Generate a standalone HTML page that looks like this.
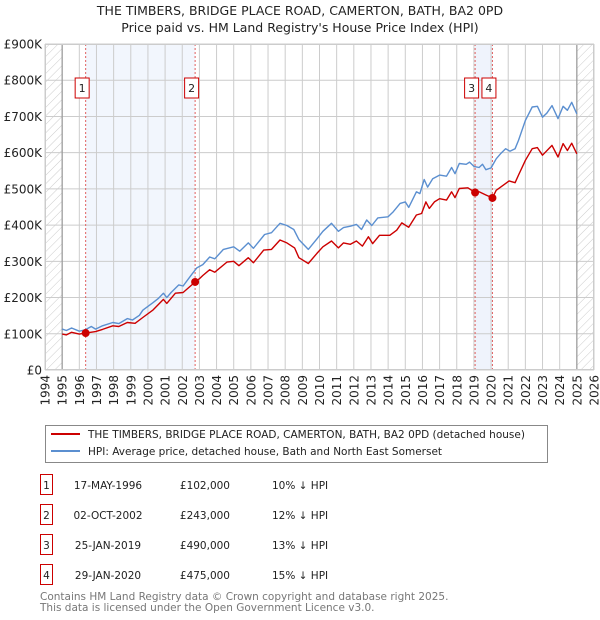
<!DOCTYPE html>
<html><head><meta charset="utf-8"><style>
body{margin:0;background:#fff;}
svg{display:block;font-family:"DejaVu Sans","Liberation Sans",sans-serif;}
</style></head><body>
<svg id="chart" width="600" height="620" viewBox="0 0 600 620">
<defs>
<pattern id="hatch" width="6" height="6" patternUnits="userSpaceOnUse" patternTransform="rotate(45)">
<line x1="0" y1="0" x2="0" y2="6" stroke="#ccc" stroke-width="1"/></pattern>
</defs>
<text x="300" y="15" text-anchor="middle" font-size="12.5" fill="#222">THE TIMBERS, BRIDGE PLACE ROAD, CAMERTON, BATH, BA2 0PD</text>
<text x="300" y="32" text-anchor="middle" font-size="12.5" fill="#222">Price paid vs. HM Land Registry's House Price Index (HPI)</text>
<g id="plot"></g>
<g>
<rect x="45.5" y="425.5" width="502" height="37" fill="#fff" stroke="#888"/>
<line x1="51" y1="434" x2="80" y2="434" stroke="#cc0000" stroke-width="2"/>
<text x="88" y="438" font-size="10.5" fill="#222">THE TIMBERS, BRIDGE PLACE ROAD, CAMERTON, BATH, BA2 0PD (detached house)</text>
<line x1="51" y1="451" x2="80" y2="451" stroke="#5b8fd0" stroke-width="2"/>
<text x="88" y="455" font-size="10.5" fill="#222">HPI: Average price, detached house, Bath and North East Somerset</text>
</g>
<g id="table" font-size="10.5" fill="#222"></g>
<text x="40" y="600" font-size="10.5" fill="#777">Contains HM Land Registry data © Crown copyright and database right 2025.</text>
<text x="40" y="611" font-size="10.5" fill="#777">This data is licensed under the Open Government Licence v3.0.</text>
</svg>
<script>
const hpiYears=[1995,1995.25,1995.55,1996,1996.35,1996.7,1996.95,1997.35,1997.95,1998.3,1998.8,1999.1,1999.5,1999.7,2000.3,2000.6,2000.9,2001.1,2001.35,2001.8,2002.05,2002.55,2002.85,2003.2,2003.6,2003.9,2004.4,2005,2005.35,2005.85,2006.15,2006.8,2007.2,2007.7,2008.1,2008.5,2008.8,2009.35,2009.85,2010.2,2010.7,2011.1,2011.4,2011.8,2012.15,2012.45,2012.75,2013.05,2013.4,2014,2014.3,2014.7,2015,2015.2,2015.5,2015.65,2015.85,2016.1,2016.3,2016.6,2017,2017.4,2017.7,2017.9,2018.15,2018.55,2018.75,2019,2019.3,2019.5,2019.7,2020,2020.3,2020.55,2020.85,2021.1,2021.4,2021.6,2022,2022.4,2022.7,2023,2023.25,2023.55,2023.9,2024.2,2024.45,2024.7,2025];
const hpiValues=[113,109,116,107,111,120,113,122,131,128,142,138,151,165,186,197,212,200,214,235,232,264,282,291,312,307,333,340,328,351,336,374,379,405,399,388,360,333,362,383,405,383,393,397,402,388,414,399,420,423,437,460,464,449,478,492,487,526,505,528,538,535,559,542,570,568,574,562,559,568,553,558,583,597,611,604,611,634,689,726,728,698,709,730,694,728,717,739,707];
const priceYears=[1995,1995.25,1995.55,1996,1996.37,1996.95,1997.35,1997.95,1998.3,1998.8,1999.25,1999.7,2000.3,2000.9,2001.1,2001.6,2002.05,2002.75,2003,2003.2,2003.6,2003.9,2004.6,2005,2005.3,2005.85,2006.15,2006.75,2007.2,2007.7,2008.1,2008.55,2008.8,2009.35,2009.85,2010.2,2010.7,2011.1,2011.4,2011.8,2012.15,2012.5,2012.85,2013.1,2013.5,2014.1,2014.5,2014.8,2015.2,2015.65,2015.95,2016.2,2016.4,2016.7,2017,2017.4,2017.7,2017.9,2018.15,2018.65,2019.07,2019.3,2019.7,2020.08,2020.3,2020.7,2021.05,2021.4,2021.6,2022,2022.4,2022.7,2023,2023.55,2023.9,2024.2,2024.45,2024.7,2025];
const priceValues=[99,97,104,99,102,106,112,122,120,131,129,145,166,195,184,212,214,243,252,261,277,270,298,300,288,310,296,331,333,359,351,337,310,294,322,340,356,337,351,347,356,342,368,349,372,372,386,406,394,428,432,464,446,464,473,469,492,476,501,503,490,492,483,475,496,510,522,517,538,579,611,614,593,620,588,625,606,626,597];
const saleLabels=["1","2","3","4"];
const saleYears=[1996.37,2002.75,2019.07,2020.08];
const saleValues=[102,243,490,475];
const saleDates=["17-MAY-1996","02-OCT-2002","25-JAN-2019","29-JAN-2020"];
const salePrices=["£102,000","£243,000","£490,000","£475,000"];
const saleDiffs=["10% ↓ HPI","12% ↓ HPI","13% ↓ HPI","15% ↓ HPI"];
const yTicks=[0,100,200,300,400,500,600,700,800,900];
const yTickLabels=["£0","£100K","£200K","£300K","£400K","£500K","£600K","£700K","£800K","£900K"];
const xTicks=[1994,1995,1996,1997,1998,1999,2000,2001,2002,2003,2004,2005,2006,2007,2008,2009,2010,2011,2012,2013,2014,2015,2016,2017,2018,2019,2020,2021,2022,2023,2024,2025,2026];

const NS="http://www.w3.org/2000/svg";
const L=45,R=594,T=44,B=370,X0=1994,X1=2026,YMAX=900;
const xs=y=>L+(y-X0)/(X1-X0)*(R-L);
const ys=v=>B-v/YMAX*(B-T);
const plot=document.getElementById('plot');
function mk(tag,attrs,parent){const e=document.createElementNS(NS,tag);for(const k in attrs)e.setAttribute(k,attrs[k]);(parent||plot).appendChild(e);return e;}

mk('rect',{x:L,y:T,width:R-L,height:B-T,fill:'#fff'});
let e;
e=mk('rect',{x:L,y:T,width:xs(1995)-L,height:B-T,fill:'url(#hatch)'});


e=mk('rect',{x:xs(2025),y:T,width:R-xs(2025),height:B-T,fill:'url(#hatch)'});


e=mk('rect',{x:xs(saleYears[0]),y:T,width:xs(saleYears[1])-xs(saleYears[0]),height:B-T,fill:'#edf2fc',opacity:0.7});


e=mk('rect',{x:xs(saleYears[2]),y:T,width:xs(saleYears[3])-xs(saleYears[2]),height:B-T,fill:'#edf2fc',opacity:0.9});



yTicks.forEach((v,i)=>{
  const l=mk('line',{x1:L,x2:R,y1:ys(v),y2:ys(v),stroke:'#ccc','stroke-width':1});
  
  
  const t=mk('text',{x:L-3,y:ys(v)+4.5,'text-anchor':'end','font-size':12,fill:'#222'});
  t.textContent=yTickLabels[i];
  
  
});
xTicks.forEach(y=>{
  const l=mk('line',{x1:xs(y),x2:xs(y),y1:T,y2:B,stroke:'#ccc','stroke-width':1});
  
  
  const t=mk('text',{x:0,y:0,'text-anchor':'end','font-size':12,fill:'#222',transform:`translate(${xs(y)+4.5},${B+5}) rotate(-90)`});
  t.textContent=String(y);
  
  
});
e=mk('line',{x1:xs(1995),x2:xs(1995),y1:T,y2:B,stroke:'#999','stroke-width':1.2});


e=mk('line',{x1:xs(2025),x2:xs(2025),y1:T,y2:B,stroke:'#999','stroke-width':1.2});



saleYears.forEach((y,i)=>{
  const l=mk('line',{x1:xs(y),x2:xs(y),y1:T,y2:B,stroke:'#e06060','stroke-width':1,'stroke-dasharray':'2,2'});
  
  
});

const pts=(xa,va)=>xa.map((y,i)=>xs(y).toFixed(1)+','+ys(va[i]).toFixed(1)).join(' ');
e=mk('polyline',{points:pts(hpiYears,hpiValues),fill:'none',stroke:'#5b8fd0','stroke-width':1.4,'stroke-linejoin':'round'});


e=mk('polyline',{points:pts(priceYears,priceValues),fill:'none',stroke:'#cc0000','stroke-width':1.4,'stroke-linejoin':'round'});



saleYears.forEach((y,i)=>{
  const c=mk('circle',{cx:xs(y),cy:ys(saleValues[i]),r:4,fill:'#cc0000'});
  
  
  const bx=xs(y)-3.5;
  const r=mk('rect',{x:bx-7,y:78,width:14,height:20,fill:'#fff',stroke:'#cc0000','stroke-width':1});
  
  
  const t=mk('text',{x:bx,y:92,'text-anchor':'middle','font-size':11,fill:'#222'});
  t.textContent=saleLabels[i];
  
  
});
mk('rect',{x:L+0.5,y:T+0.5,width:R-L-1,height:B-T-1,fill:'none',stroke:'#ccc'});

const table=document.getElementById('table');
const rowY=[485,515,545,575];
saleLabels.forEach((s,i)=>{
  const y=rowY[i];
  const r=mk('rect',{x:40.5,y:y-10.5,width:12,height:20,fill:'#fff',stroke:'#cc0000','stroke-width':1},table);
  
  
  const cells=[[46.5,s,'middle'],[108,saleDates[i],'middle'],[230,salePrices[i],'end'],[272,saleDiffs[i],'start']];
  cells.forEach(c=>{
    const t=mk('text',{x:c[0],y:y+4,'text-anchor':c[2],'font-size':10.5,fill:'#222'},table);
    t.textContent=c[1];
    
    
  });
});
</script>
</body></html>
